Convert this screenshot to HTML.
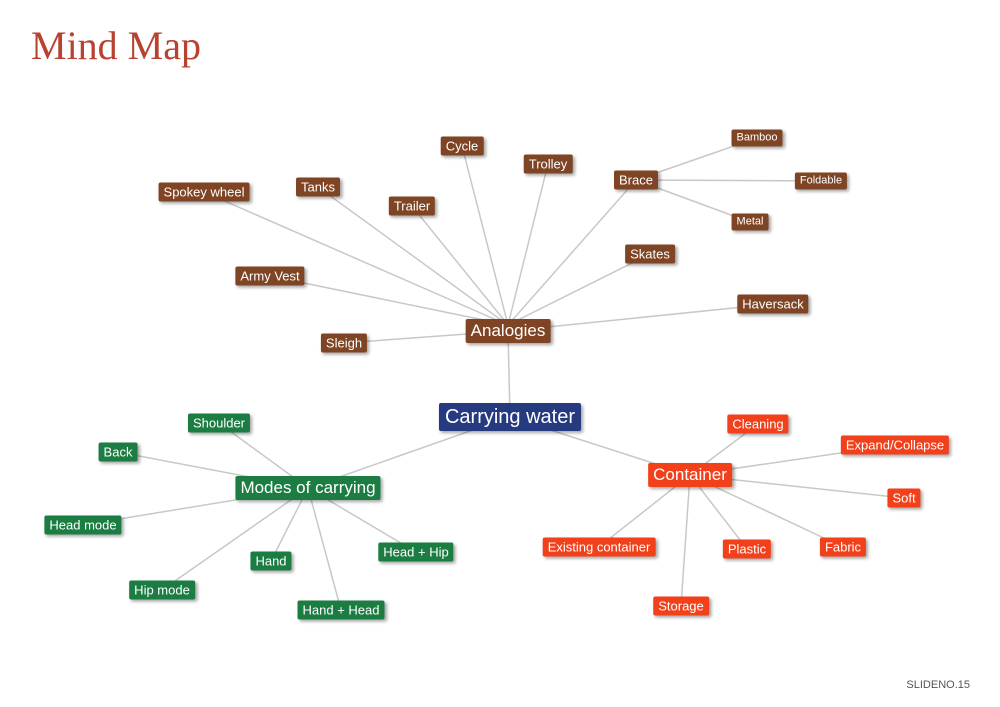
<!DOCTYPE html>
<html><head><meta charset="utf-8"><style>
body{margin:0;width:1000px;height:707px;background:#fff;position:relative;overflow:hidden;font-family:"Liberation Sans",Arial,sans-serif}
.t{position:absolute;left:31px;top:22px;font-family:"Liberation Serif",serif;font-size:40px;color:#b9412f}
.n{position:absolute;transform:translate(-50%,-50%);color:#fff;white-space:nowrap;padding:2px 5px;border-radius:2px;font-size:13px;line-height:15px;box-shadow:2px 2px 3px rgba(0,0,0,.35)}
.b{background:#7e4424}.g{background:#1c7d43}.o{background:#f2401b}.c{background:#263a80;font-size:20px;line-height:24px;padding:2px 6px}
.m{font-size:17px;line-height:20px;padding:2px 5px}
.s{font-size:11px;line-height:13px}
.f{position:absolute;right:30px;bottom:16px;font-size:11px;color:#555}
svg{position:absolute;left:0;top:0}
</style></head><body>
<div class="t">Mind Map</div>
<svg width="1000" height="707"><g stroke="#c8c8c8" stroke-width="1.5">
<line x1="510" y1="417" x2="508" y2="331"/><line x1="510" y1="417" x2="308" y2="488"/><line x1="510" y1="417" x2="690" y2="475"/>
<line x1="508" y1="325" x2="462" y2="146"/><line x1="508" y1="325" x2="548" y2="164"/><line x1="508" y1="325" x2="636" y2="180"/>
<line x1="508" y1="325" x2="204" y2="192"/><line x1="508" y1="325" x2="318" y2="187"/><line x1="508" y1="325" x2="412" y2="206"/>
<line x1="508" y1="325" x2="270" y2="276"/><line x1="508" y1="325" x2="650" y2="254"/><line x1="508" y1="331" x2="773" y2="304"/>
<line x1="508" y1="331" x2="344" y2="343"/>
<line x1="636" y1="180" x2="757" y2="138"/><line x1="636" y1="180" x2="821" y2="181"/><line x1="636" y1="180" x2="750" y2="222"/>
<line x1="308" y1="488" x2="219" y2="423"/><line x1="308" y1="488" x2="118" y2="452"/><line x1="308" y1="488" x2="83" y2="525"/>
<line x1="308" y1="488" x2="271" y2="561"/><line x1="308" y1="488" x2="416" y2="552"/><line x1="308" y1="488" x2="162" y2="590"/>
<line x1="308" y1="488" x2="341" y2="610"/>
<line x1="690" y1="475" x2="758" y2="424"/><line x1="690" y1="475" x2="895" y2="445"/><line x1="690" y1="475" x2="904" y2="498"/>
<line x1="690" y1="475" x2="599" y2="547"/><line x1="690" y1="475" x2="747" y2="549"/><line x1="690" y1="475" x2="843" y2="547"/>
<line x1="690" y1="475" x2="681" y2="606"/>
</g></svg>
<div class="n c" style="left:510px;top:417px">Carrying water</div>
<div class="n b m" style="left:508px;top:331px">Analogies</div>
<div class="n g m" style="left:308px;top:488px">Modes of carrying</div>
<div class="n o m" style="left:690px;top:475px">Container</div>
<div class="n b" style="left:462px;top:146px">Cycle</div>
<div class="n b" style="left:548px;top:164px">Trolley</div>
<div class="n b" style="left:636px;top:180px">Brace</div>
<div class="n b s" style="left:757px;top:138px">Bamboo</div>
<div class="n b s" style="left:821px;top:181px">Foldable</div>
<div class="n b s" style="left:750px;top:222px">Metal</div>
<div class="n b" style="left:204px;top:192px">Spokey wheel</div>
<div class="n b" style="left:318px;top:187px">Tanks</div>
<div class="n b" style="left:412px;top:206px">Trailer</div>
<div class="n b" style="left:270px;top:276px">Army Vest</div>
<div class="n b" style="left:650px;top:254px">Skates</div>
<div class="n b" style="left:773px;top:304px">Haversack</div>
<div class="n b" style="left:344px;top:343px">Sleigh</div>
<div class="n g" style="left:219px;top:423px">Shoulder</div>
<div class="n g" style="left:118px;top:452px">Back</div>
<div class="n g" style="left:83px;top:525px">Head mode</div>
<div class="n g" style="left:271px;top:561px">Hand</div>
<div class="n g" style="left:416px;top:552px">Head + Hip</div>
<div class="n g" style="left:162px;top:590px">Hip mode</div>
<div class="n g" style="left:341px;top:610px">Hand + Head</div>
<div class="n o" style="left:758px;top:424px">Cleaning</div>
<div class="n o" style="left:895px;top:445px">Expand/Collapse</div>
<div class="n o" style="left:904px;top:498px">Soft</div>
<div class="n o" style="left:599px;top:547px">Existing container</div>
<div class="n o" style="left:747px;top:549px">Plastic</div>
<div class="n o" style="left:843px;top:547px">Fabric</div>
<div class="n o" style="left:681px;top:606px">Storage</div>
<div class="f">SLIDENO.15</div>
</body></html>
